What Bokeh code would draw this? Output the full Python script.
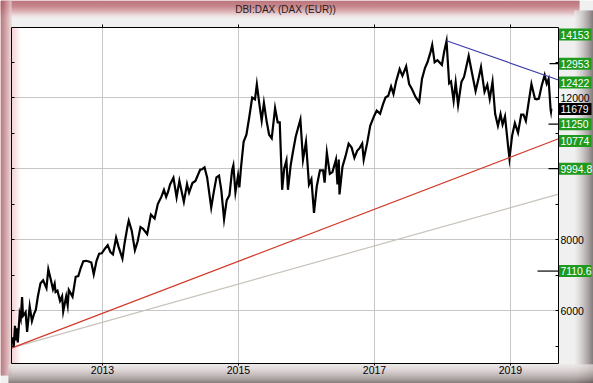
import datetime as dt
from bokeh.plotting import figure
from bokeh.models import (LinearAxis, DatetimeAxis, FixedTicker, DatetimeTickFormatter,
                          Range1d, BoxAnnotation, Label, ColumnDataSource)
from bokeh.embed import file_html
from bokeh.resources import INLINE

# ---------------- data ----------------
price_dates = [
    "2011-09-05", "2011-09-12", "2011-09-19", "2011-09-23", "2011-09-30", "2011-10-04", "2011-10-14",
    "2011-10-20", "2011-10-27", "2011-11-01", "2011-11-09", "2011-11-15", "2011-11-23", "2011-12-07",
    "2011-12-19", "2011-12-30",
    "2012-01-09", "2012-01-20", "2012-02-03", "2012-02-17", "2012-03-06", "2012-03-16", "2012-03-28",
    "2012-04-10", "2012-04-19", "2012-04-24", "2012-05-04", "2012-05-18", "2012-05-29", "2012-06-04",
    "2012-06-20", "2012-06-28", "2012-07-04", "2012-07-24", "2012-08-10", "2012-08-24", "2012-09-07",
    "2012-09-20", "2012-10-05", "2012-10-19", "2012-11-02", "2012-11-15", "2012-11-30", "2012-12-14",
    "2012-12-28",
    "2013-01-14", "2013-01-29", "2013-02-12", "2013-02-26", "2013-03-15", "2013-03-28", "2013-04-18",
    "2013-04-30", "2013-05-15", "2013-05-22", "2013-06-07", "2013-06-24", "2013-07-09", "2013-07-24",
    "2013-08-07", "2013-08-29", "2013-09-18", "2013-10-08", "2013-10-25", "2013-11-13", "2013-11-27",
    "2013-12-09", "2013-12-19", "2013-12-30",
    "2014-01-17", "2014-02-03", "2014-02-18", "2014-03-14", "2014-03-31", "2014-04-11", "2014-04-29",
    "2014-05-15", "2014-06-10", "2014-06-20", "2014-07-03", "2014-07-17", "2014-08-08", "2014-08-22",
    "2014-09-05", "2014-09-19", "2014-10-01", "2014-10-16", "2014-10-30", "2014-11-14", "2014-11-28",
    "2014-12-05", "2014-12-16", "2014-12-30",
    "2015-01-06", "2015-01-15", "2015-01-29", "2015-02-13", "2015-02-27", "2015-03-16", "2015-03-31",
    "2015-04-10", "2015-04-24", "2015-05-06", "2015-05-18", "2015-06-01", "2015-06-15", "2015-06-29",
    "2015-07-17", "2015-07-31", "2015-08-11", "2015-08-24", "2015-09-04", "2015-09-16", "2015-09-24",
    "2015-10-09", "2015-10-22", "2015-11-05", "2015-11-30", "2015-12-14", "2015-12-30",
    "2016-01-15", "2016-01-28", "2016-02-11", "2016-02-26", "2016-03-14", "2016-03-31", "2016-04-08",
    "2016-04-20", "2016-05-06", "2016-05-20", "2016-06-08", "2016-06-16", "2016-06-23", "2016-06-27",
    "2016-07-13", "2016-07-29", "2016-08-15", "2016-08-31", "2016-09-15", "2016-09-30", "2016-10-14",
    "2016-10-27", "2016-11-04", "2016-11-22", "2016-12-09", "2016-12-30",
    "2017-01-13", "2017-01-31", "2017-02-15", "2017-03-01", "2017-03-16", "2017-03-31", "2017-04-13",
    "2017-04-27", "2017-05-16", "2017-05-31", "2017-06-20", "2017-07-06", "2017-07-21", "2017-08-10",
    "2017-08-29", "2017-09-13", "2017-09-29", "2017-10-13", "2017-10-30", "2017-11-07", "2017-11-20",
    "2017-12-05", "2017-12-29",
    "2018-01-10", "2018-01-23", "2018-02-06", "2018-02-16", "2018-03-02", "2018-03-13", "2018-03-26",
    "2018-04-13", "2018-04-27", "2018-05-22", "2018-06-05", "2018-06-28", "2018-07-12", "2018-07-27",
    "2018-08-15", "2018-08-30", "2018-09-12", "2018-09-27", "2018-10-11", "2018-10-26", "2018-11-09",
    "2018-11-20", "2018-12-03", "2018-12-20", "2018-12-27",
    "2019-01-10", "2019-01-25", "2019-02-11", "2019-02-28", "2019-03-12", "2019-03-25", "2019-04-10",
    "2019-04-24", "2019-05-13", "2019-05-23", "2019-06-03", "2019-06-18", "2019-07-04", "2019-07-15",
    "2019-07-25", "2019-08-05", "2019-08-07", "2019-08-09",
]
price_values = [
    5250, 4970, 5570, 5160, 5500, 5100, 5900, 5770, 6380, 5850, 5900, 5950, 5400, 6120, 5700, 5900,
    6020, 6400, 6770, 6850, 6630, 7160, 6900, 6600, 6750, 6520, 6560, 6270, 6400, 5970, 6400, 6150,
    6580, 6390, 6950, 6970, 7210, 7390, 7400, 7380, 7350, 7020, 7400, 7600, 7610,
    7740, 7840, 7650, 7580, 8050, 7800, 7460, 7910, 8360, 8530, 8250, 7700, 7950, 8350, 8300, 8150,
    8700, 8590, 9000, 9200, 9400, 9200, 9340, 9550,
    9740, 9190, 9650, 9060, 9560, 9320, 9590, 9650, 9970, 9980, 10030, 9750, 8900, 9350, 9750, 9800,
    9400, 8570, 9100, 9250, 9950, 10090, 9330, 9800,
    9470, 10030, 10750, 10950, 11400, 12000, 11950, 12370, 11800, 11350, 11850, 11350, 10950, 10850,
    11700, 11300, 11300, 9400, 10000, 10230, 9400, 10100, 10500, 10900, 11380, 10250, 10750,
    9550, 9700, 8750, 9500, 9950, 9950, 9600, 10450, 9850, 9900, 10250, 9550, 10250, 9270, 10050,
    10340, 10700, 10590, 10300, 10500, 10580, 10700, 10250, 10700, 11200, 11480,
    11630, 11540, 11800, 12000, 12050, 12310, 12100, 12450, 12800, 12610, 12880, 12380, 12240, 12010,
    11870, 12520, 12830, 13000, 13300, 13480, 12990, 13050, 12920,
    13280, 13590, 12400, 12450, 11910, 12420, 11790, 12440, 12580, 13170, 12790, 12180, 12490, 12860,
    12160, 12360, 11960, 12440, 11540, 11200, 11530, 11240, 11470, 10610, 10280,
    10920, 11280, 11010, 11520, 11520, 11340, 11900, 12380, 11960, 11950, 11970, 12330, 12630, 12390,
    12520, 11660, 11600, 11690,
]

level_values = [14153, 12953, 12422, 11679, 11250, 10774, 9994.8, 7110.6]
level_texts = ["14153", "12953", "12422", "11679", "11250", "10774", "9994.8", "7110.6"]
level_is_last = [False, False, False, True, False, False, False, False]
marker_levels = [12953, 11250, 9994.8, 7110.6]

red_dates, red_values = ["2011-09-12", "2019-08-16"], [4965, 10774]
grey_dates, grey_values = ["2011-09-12", "2019-08-16"], [4965, 9230]
blue_dates, blue_values = ["2018-01-23", "2019-08-16"], [13600, 12550]

year_ticks = [2013, 2015, 2017, 2019]
y_major = [6000, 8000, 10000, 12000]
y_minor = [5000, 7000, 9000, 11000, 13000]

title_text = "DBI:DAX (DAX (EUR))"

# ---------------- geometry / style ----------------
EPOCH = dt.datetime(1970, 1, 1)


def to_dt(s):
    return dt.datetime.strptime(s, "%Y-%m-%d")


def ms(d):
    return (d - EPOCH).total_seconds() * 1000.0


def mix(c1, c2, t):
    a = [int(c1[i:i + 2], 16) for i in (1, 3, 5)]
    b = [int(c2[i:i + 2], 16) for i in (1, 3, 5)]
    return "#%02x%02x%02x" % tuple(round(a[k] + (b[k] - a[k]) * t) for k in range(3))


def grad(stops, t):
    for (t0, c0), (t1, c1) in zip(stops[:-1], stops[1:]):
        if t <= t1:
            return mix(c0, c1, 0 if t1 == t0 else (t - t0) / (t1 - t0))
    return stops[-1][1]


W, H = 593, 383
L, R, T, B = 11, 558, 27, 363          # inner chart box, px
MSPP = 365.25 * 86400000.0 / 68.0      # ms per px
VPP = 1000.0 / 35.5                    # value per px
X0 = ms(dt.datetime(2013, 1, 1)) - 102 * MSPP
YTOP = 12000 + 97 * VPP


def X(px):
    return X0 + px * MSPP


def Y(py):
    return YTOP - py * VPP


FONT = "Liberation Sans"

p = figure(width=W, height=H, x_axis_type="datetime", y_axis_location="right",
           x_range=Range1d(X(0), X(W)), y_range=Range1d(Y(H), Y(0)),
           output_backend="svg", toolbar_location=None,
           min_border=0, min_border_left=0, min_border_right=0, min_border_top=0,
           min_border_bottom=0, background_fill_color="white", border_fill_color="#f0f0f0",
           outline_line_color=None)
p.title.visible = False

year_ms = [ms(dt.datetime(y, 1, 1)) for y in year_ticks]
p.xgrid.ticker = FixedTicker(ticks=year_ms)
p.ygrid.ticker = FixedTicker(ticks=y_major)
p.xgrid.grid_line_color = "#c6c6c6"
p.ygrid.grid_line_color = "#c6c6c6"


def box(px0, px1, py0, py1, color, alpha=1.0, level="underlay"):
    p.add_layout(BoxAnnotation(left=X(px0), right=X(px1), top=Y(py0), bottom=Y(py1),
                               fill_color=color, fill_alpha=alpha, line_color=None,
                               level=level))


# light grey surround covering the grid outside the chart box
box(0, W, 0, T, "#f0f0f0")
box(0, W, B, H, "#f0f0f0")
box(0, L, 0, H, "#f0f0f0")
box(R, W, 0, H, "#f0f0f0")

# bevel: top (red), left (red), right (grey), bottom (grey)
top_stops = [(0, "#a84c54"), (6, "#b8646b"), (11, "#d49ca0"), (15, "#ead8d8"), (18, "#f0f0f0")]
for r in range(18):
    box(0, W - 14, r, r + 1, grad(top_stops, r + 0.5))
left_stops = [(0, "#a64e58"), (4, "#bd7880"), (8, "#d9aab0"), (11, "#eed4d6")]
for c in range(11):
    box(c, c + 1, 0, H - 8, grad(left_stops, c + 0.5))
right_stops = [(574, "#f0f0f0"), (580, "#d2cccc"), (586, "#a49a9a"), (590, "#7c7272"), (593, "#5a5050")]
for c in range(574, W):
    box(c, c + 1, 10, H, grad(right_stops, c + 0.5))
bottom_stops = [(364, "#ece6e6"), (370, "#d6cccc"), (376, "#aa9e9e"), (380, "#867a7a"), (383, "#5c5050")]
for r in range(364, H):
    box(8, W, r, r + 1, grad(bottom_stops, r + 0.5))
# pink glow inside the chart's left edge
for c in range(L, L + 9):
    box(c, c + 1, T, B, "#e4939a", 0.45 * (1 - (c - L) / 9.0))

# axes (fixed inside the canvas so they take no border space)
fmt = DatetimeTickFormatter(microseconds="%Y", milliseconds="%Y", seconds="%Y", minsec="%Y",
                            minutes="%Y", hourmin="%Y", hours="%Y", days="%Y", months="%Y",
                            years="%Y")
xa = p.xaxis[0]
xa.fixed_location = Y(B)
xa.bounds = (X(L), X(R))
xa.ticker = FixedTicker(ticks=year_ms)
xa.formatter = fmt
xa.major_tick_in = 0
xa.major_tick_out = 2
xa.major_label_standoff = 0
xa.major_label_text_font = FONT
xa.major_label_text_font_size = "10.5px"
xa.major_label_text_color = "black"
xa.axis_line_color = "black"
xa.major_tick_line_color = "black"

ya = p.yaxis[0]
ya.fixed_location = X(R)
ya.bounds = (Y(B), Y(T))
ya.ticker = FixedTicker(ticks=y_major, minor_ticks=y_minor)
ya.major_tick_in = 3
ya.major_tick_out = 0
ya.minor_tick_in = 3
ya.minor_tick_out = 0
ya.major_label_standoff = 2
ya.major_label_text_font = FONT
ya.major_label_text_font_size = "10.5px"
ya.major_label_text_color = "black"
ya.axis_line_color = "black"
ya.major_tick_line_color = "black"
ya.minor_tick_line_color = "black"

la = LinearAxis(ticker=FixedTicker(ticks=[], minor_ticks=y_major + y_minor),
                fixed_location=X(L), bounds=(Y(B), Y(T)),
                major_tick_in=0, major_tick_out=0, minor_tick_in=3, minor_tick_out=0,
                axis_line_color="black", minor_tick_line_color="black")
p.add_layout(la, "left")

ta = DatetimeAxis(ticker=FixedTicker(ticks=[], minor_ticks=year_ms), formatter=fmt,
                  fixed_location=Y(T), bounds=(X(L), X(R)),
                  major_tick_in=0, major_tick_out=0, minor_tick_in=0, minor_tick_out=3,
                  axis_line_color="black", minor_tick_line_color="black")
p.add_layout(ta, "above")

# price
src = ColumnDataSource(dict(x=[to_dt(d) for d in price_dates], y=price_values))
p.line("x", "y", source=src, line_color="black", line_width=2.2, line_join="miter")


# trend lines
def trend(dates, vals, color, extend_left, width=1.2):
    d0, d1 = ms(to_dt(dates[0])), ms(to_dt(dates[1]))
    slope = (vals[1] - vals[0]) / (d1 - d0)
    xs = X(L) if extend_left else d0
    xe = X(R)
    p.line([xs, xe], [vals[0] + slope * (xs - d0), vals[0] + slope * (xe - d0)],
           line_color=color, line_width=width)


trend(grey_dates, grey_values, "#c8c2ba", True)
trend(red_dates, red_values, "#d23a2a", True)
trend(blue_dates, blue_values, "#3c3caa", False)

# short level leaders at right edge
mark_len_px = [9, 10, 10, 21]
for lv, lp in zip(marker_levels, mark_len_px):
    p.line([X(R - lp), X(R)], [lv, lv], line_color="black", line_width=1.2)

# value boxes at right
for v, txt, last in zip(level_values, level_texts, level_is_last):
    yc = min(v, Y(T + 7))
    col = "#000000" if last else "#1f9a1f"
    p.add_layout(BoxAnnotation(left=X(R + 0.5), right=X(W - 2), top=yc + 6 * VPP,
                               bottom=yc - 6 * VPP, fill_color=col, fill_alpha=1.0,
                               line_color=None))
    p.add_layout(Label(x=X(R + 2), y=yc, text=txt, text_color="white", text_font=FONT,
                       text_font_size="10.4px", text_baseline="middle", text_align="left"))

p.add_layout(Label(x=X(285), y=Y(9), text=title_text, text_color="#2a1a1a", text_font=FONT,
                   text_font_size="10px", text_baseline="middle", text_align="center"))

open("out.html", "w").write(file_html(p, INLINE))
